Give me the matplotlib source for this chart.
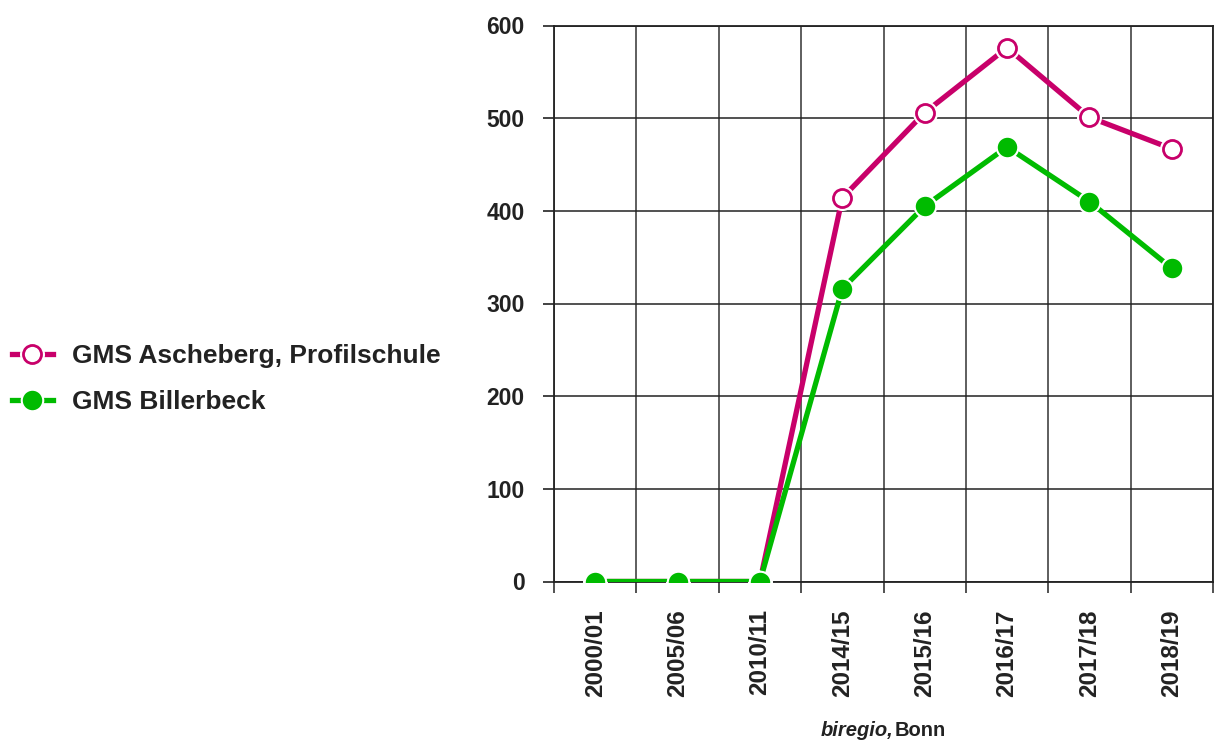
import numpy as np
import matplotlib
matplotlib.use("Agg")
import matplotlib.pyplot as plt
from matplotlib.lines import Line2D

plt.rcParams['font.family'] = ['Liberation Sans', 'DejaVu Sans']
plt.rcParams['font.weight'] = 'bold'

years = ["2000/01", "2005/06", "2010/11", "2014/15", "2015/16", "2016/17", "2017/18", "2018/19"]
ascheberg = [0, 0, 0, 414, 506, 576, 501, 467]
billerbeck = [0, 0, 0, 316, 405, 469, 410, 338]
y_ticks = [0, 100, 200, 300, 400, 500, 600]

label_a = "GMS Ascheberg, Profilschule"
label_b = "GMS Billerbeck"

magenta = "#C8006A"
green = "#00BB00"
ink = "#222222"

fig = plt.figure(figsize=(12.16, 7.45), dpi=100)
ax = fig.add_axes([554 / 1216, 1 - 581.5 / 745, (1213 - 554) / 1216, (581.5 - 25.5) / 745])

x = np.arange(len(years))

# Ascheberg: solid line, white halo, open circle
ax.plot(x, ascheberg, color=magenta, lw=3.8, zorder=3, solid_capstyle='butt')
ax.plot(x, ascheberg, ls='none', marker='o', ms=17, mfc='white', mec='white', zorder=4)
ax.plot(x, ascheberg, ls='none', marker='o', ms=13, mfc='white', mec=magenta, mew=2.0, zorder=5)

# Billerbeck: solid line, filled circle with white halo
ax.plot(x, billerbeck, color=green, lw=3.8, zorder=6, solid_capstyle='butt')
ax.plot(x, billerbeck, ls='none', marker='o', ms=15.5, mfc=green, mec='white', mew=1.5, zorder=7)

ax.set_xlim(-0.5, len(years) - 0.5)
ax.set_ylim(0, 600)

ax.set_yticks(y_ticks)
ax.set_yticklabels([str(v) for v in y_ticks], fontsize=16.5, fontweight='bold', color=ink)
ax.tick_params(axis='y', direction='out', length=8, width=1.2, pad=13, color=ink)

ax.set_xticks(x)
ax.set_xticklabels(years, rotation=90, fontsize=17.5, fontweight='bold', color=ink)
ax.set_xticks(np.arange(-0.5, len(years)), minor=True)
ax.tick_params(axis='x', which='major', length=0, pad=20)
ax.tick_params(axis='x', which='minor', direction='out', length=8, width=1.2, color='#333333')

ax.grid(axis='y', which='major', color=ink, lw=1.1)
ax.grid(axis='x', which='minor', color='#333333', lw=1.1)
ax.set_axisbelow(True)
for s in ax.spines.values():
    s.set_color(ink)
    s.set_linewidth(1.3)

# Legend keys: line, white halo, marker stacked
key_a = (
    Line2D([], [], color=magenta, lw=3.8),
    Line2D([], [], ls='none', marker='o', ms=17, mfc='white', mec='white'),
    Line2D([], [], ls='none', marker='o', ms=13, mfc='white', mec=magenta, mew=2.0),
)
key_b = (
    Line2D([], [], color=green, lw=3.8),
    Line2D([], [], ls='none', marker='o', ms=15.5, mfc=green, mec='white', mew=1.5),
)
fig.legend([key_a, key_b], [label_a, label_b], loc='center left',
           bbox_to_anchor=(12 / 1216, 1 - 379 / 745),
           frameon=False, prop={'family': 'Liberation Sans', 'weight': 'bold', 'size': 19},
           labelcolor=ink, handlelength=1.55, handletextpad=0.72, labelspacing=0.85,
           borderaxespad=0, borderpad=0)

cap_y = 1 - 736 / 745
fig.text(893 / 1216, cap_y, "biregio,", fontsize=14.5, fontweight='bold', style='italic',
         ha='right', va='baseline', color=ink)
fig.text(895 / 1216, cap_y, "Bonn", fontsize=14.5, fontweight='bold',
         ha='left', va='baseline', color=ink)

fig.savefig("out.png", dpi=100, facecolor='white')
